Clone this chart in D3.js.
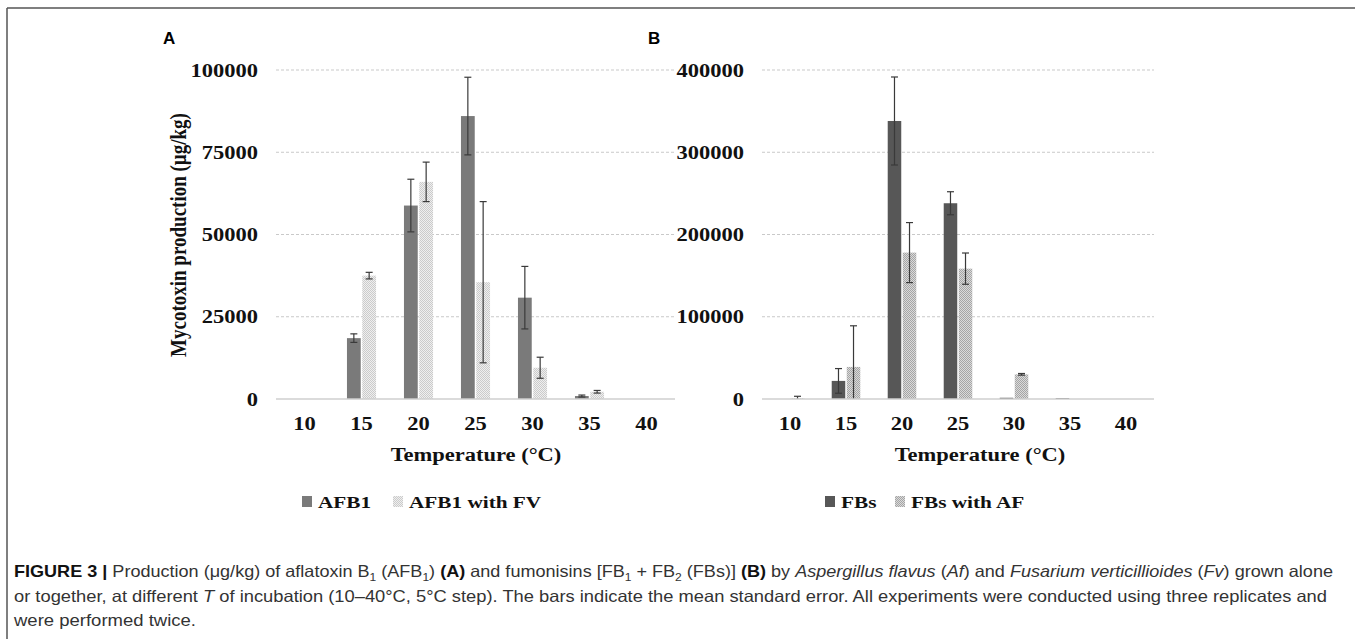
<!DOCTYPE html>
<html>
<head>
<meta charset="utf-8">
<script src="https://cdn.jsdelivr.net/npm/d3@7"></script>
<style>
  body { margin: 0; background: #fff; }
  svg { display: block; }
  .serif { font-family: "Liberation Serif", "Times New Roman", serif; font-weight: bold; fill: #111; }
  .cap { font-family: "Liberation Sans", Arial, sans-serif; font-size: 16.5px; fill: #333; }
</style>
</head>
<body>
<div id="figure"></div>
<script>
// values (µg/kg)
const temps = ["10", "15", "20", "25", "30", "35", "40"];

const afb1 = [0, 18500, 58800, 86000, 30800, 900, 0];
const afb1Err = [0, 1300, 8000, 11800, 9500, 300, 0];
const afb1Fv = [0, 37500, 66000, 35500, 9500, 2200, 0];
const afb1FvErr = [0, 1000, 6000, 24500, 3200, 400, 0];

const fbs = [0, 22000, 338000, 238000, 1500, 1000, 0];
const fbsErr = [0, 15000, 53500, 14000, 0, 0, 0];
const fbsAf = [800, 39000, 178000, 158500, 30000, 0, 0];
const fbsAfErr = [2500, 50000, 36500, 19000, 1000, 0, 0];

const ticksA = [0, 25000, 50000, 75000, 100000];
const ticksB = [0, 100000, 200000, 300000, 400000];

const seriesA = ["AFB1", "AFB1 with FV"];
const seriesB = ["FBs", "FBs with AF"];

const W = 1355, H = 639;
const SX = 1.25; // the chart art is stretched sideways in the figure
const plotTop = 70, plotBase = 399;

const svg = d3.select("#figure").append("svg")
    .attr("width", W)
    .attr("height", H);

const defs = svg.append("defs");
function checker(id, bg, fg) {
    const p = defs.append("pattern")
        .attr("id", id)
        .attr("width", 2).attr("height", 2)
        .attr("patternUnits", "userSpaceOnUse");
    p.append("rect").attr("width", 2).attr("height", 2).attr("fill", bg);
    p.append("rect").attr("width", 1).attr("height", 1).attr("fill", fg);
    p.append("rect").attr("x", 1).attr("y", 1).attr("width", 1).attr("height", 1).attr("fill", fg);
}
checker("chkLight", "#efefef", "#cbcbcb");
checker("chkDark", "#dadada", "#a5a5a5");

// frame
svg.append("line").attr("x1", 7).attr("x2", W).attr("y1", 8).attr("y2", 8)
    .attr("stroke", "#555").attr("stroke-width", 1.5);
svg.append("line").attr("x1", 7).attr("x2", 7).attr("y1", 8).attr("y2", H)
    .attr("stroke", "#555").attr("stroke-width", 1.5);

function stretched(g, x, y, str, anchor, size) {
    return g.append("text")
        .attr("class", "serif")
        .attr("transform", "translate(" + x + "," + y + ") scale(" + SX + ",1)")
        .attr("text-anchor", anchor)
        .style("font-size", size + "px")
        .text(str);
}

function panel(cfg) {
    const g = svg.append("g");

    const x = d3.scaleBand()
        .domain(temps)
        .range([cfg.x0, cfg.x1])
        .paddingInner(0.49)
        .paddingOuter(0.245);
    const xs = d3.scaleBand()
        .domain([0, 1])
        .range([0, x.bandwidth()])
        .paddingInner(0.1);
    const y = d3.scaleLinear()
        .domain([0, cfg.max])
        .range([plotBase, plotTop]);

    // gridlines
    g.append("g").selectAll("line")
        .data(cfg.ticks.filter(d => d > 0))
        .enter().append("line")
        .attr("x1", cfg.x0).attr("x2", cfg.x1)
        .attr("y1", d => y(d)).attr("y2", d => y(d))
        .attr("stroke", "#c9c9c9")
        .attr("stroke-dasharray", "3,2");

    // y axis labels
    const yAxis = g.append("g")
        .attr("transform", "translate(" + cfg.x0 + ",0)")
        .call(d3.axisLeft(y).tickValues(cfg.ticks).tickSize(0).tickPadding(14.4).tickFormat(d3.format("d")));
    yAxis.select(".domain").remove();
    yAxis.selectAll(".tick text")
        .attr("class", "serif")
        .attr("transform", "scale(" + SX + ",1)")
        .style("font-size", "18px")
        .attr("dy", "0.34em");

    // bars
    const groups = [
        { vals: cfg.v1, errs: cfg.e1, fill: cfg.fill1 },
        { vals: cfg.v2, errs: cfg.e2, fill: cfg.fill2 }
    ];
    groups.forEach((s, i) => {
        const rows = temps.map((t, j) => ({ t: t, v: s.vals[j], e: s.errs[j] }));
        g.append("g").selectAll("rect")
            .data(rows)
            .enter().append("rect")
            .attr("x", d => x(d.t) + xs(i))
            .attr("width", xs.bandwidth())
            .attr("y", d => y(d.v))
            .attr("height", d => y(0) - y(d.v))
            .attr("fill", s.fill);

        const eb = g.append("g").attr("stroke", "#3a3a3a").attr("stroke-width", 1.2)
            .selectAll("g")
            .data(rows.filter(d => d.e > 0))
            .enter().append("g")
            .attr("transform", d => "translate(" + (x(d.t) + xs(i) + xs.bandwidth() / 2) + ",0)");
        eb.append("line")
            .attr("y1", d => y(Math.max(0, d.v - d.e)))
            .attr("y2", d => y(d.v + d.e));
        eb.append("line")
            .attr("x1", -3.5).attr("x2", 3.5)
            .attr("y1", d => y(d.v + d.e)).attr("y2", d => y(d.v + d.e));
        eb.filter(d => d.v - d.e > 0).append("line")
            .attr("x1", -3.5).attr("x2", 3.5)
            .attr("y1", d => y(d.v - d.e)).attr("y2", d => y(d.v - d.e));
    });

    // baseline
    g.append("line")
        .attr("x1", cfg.x0).attr("x2", cfg.x1)
        .attr("y1", y(0)).attr("y2", y(0))
        .attr("stroke", "#cfcfcf").attr("stroke-width", 1.5);

    // x tick labels
    temps.forEach(t => stretched(g, x(t) + x.bandwidth() / 2, 430, t, "middle", 18));

    stretched(g, cfg.titleX, 461, "Temperature  (°C)", "middle", 18);

    // legend
    cfg.legend.forEach((name, i) => {
        const lx = cfg.legendX[i];
        g.append("rect")
            .attr("x", lx).attr("y", 496)
            .attr("width", 10).attr("height", 11)
            .attr("fill", i === 0 ? cfg.fill1 : cfg.fill2);
        stretched(g, lx + 16, 508, name, "start", 17);
    });

    // panel letter
    g.append("text")
        .attr("x", cfg.letterX).attr("y", 44)
        .style("font-family", "'Liberation Sans', Arial, sans-serif")
        .style("font-weight", "bold")
        .style("font-size", "17px")
        .text(cfg.letter);

    return g;
}

panel({
    x0: 276, x1: 675, max: 100000, ticks: ticksA,
    v1: afb1, e1: afb1Err, v2: afb1Fv, e2: afb1FvErr,
    fill1: "#7a7a7a", fill2: "url(#chkLight)",
    legend: seriesA, legendX: [302, 393],
    titleX: 476, letter: "A", letterX: 163
});

panel({
    x0: 762, x1: 1154, max: 400000, ticks: ticksB,
    v1: fbs, e1: fbsErr, v2: fbsAf, e2: fbsAfErr,
    fill1: "#575757", fill2: "url(#chkDark)",
    legend: seriesB, legendX: [825, 895],
    titleX: 980, letter: "B", letterX: 648
});

// y axis title (panel A only)
svg.append("text")
    .attr("class", "serif")
    .attr("transform", "translate(186,235) scale(" + SX + ",1) rotate(-90)")
    .attr("text-anchor", "middle")
    .style("font-size", "19px")
    .text("Mycotoxin production (µg/kg)");

// caption
const captionLines = [
    [["FIGURE 3 | ", "b"], ["Production (μg/kg) of aflatoxin B"], ["1", "s"], [" (AFB"], ["1", "s"], [") "],
     ["(A)", "b"], [" and fumonisins [FB"], ["1", "s"], [" + FB"], ["2", "s"], [" (FBs)] "], ["(B)", "b"],
     [" by "], ["Aspergillus flavus", "i"], [" ("], ["Af", "i"], [") and "], ["Fusarium verticillioides", "i"],
     [" ("], ["Fv", "i"], [") grown alone"]],
    [["or together, at different "], ["T", "i"],
     [" of incubation (10–40°C, 5°C step). The bars indicate the mean standard error. All experiments were conducted using three replicates and"]],
    [["were performed twice."]]
];
const captionWidths = [1319, 1313, 182];

captionLines.forEach((segs, li) => {
    const t = svg.append("text")
        .attr("class", "cap")
        .attr("x", 14)
        .attr("y", 577 + li * 24.5);
    let shift = 0;
    segs.forEach(([str, st]) => {
        const ts = t.append("tspan").text(str);
        const want = st === "s" ? 4 : 0;
        if (want !== shift) { ts.attr("dy", want - shift); shift = want; }
        if (st === "b") ts.style("font-weight", "bold").style("fill", "#111");
        if (st === "i") ts.style("font-style", "italic");
        if (st === "s") ts.style("font-size", "11px");
    });
    t.attr("textLength", captionWidths[li]).attr("lengthAdjust", "spacingAndGlyphs");
});
</script>
</body>
</html>
